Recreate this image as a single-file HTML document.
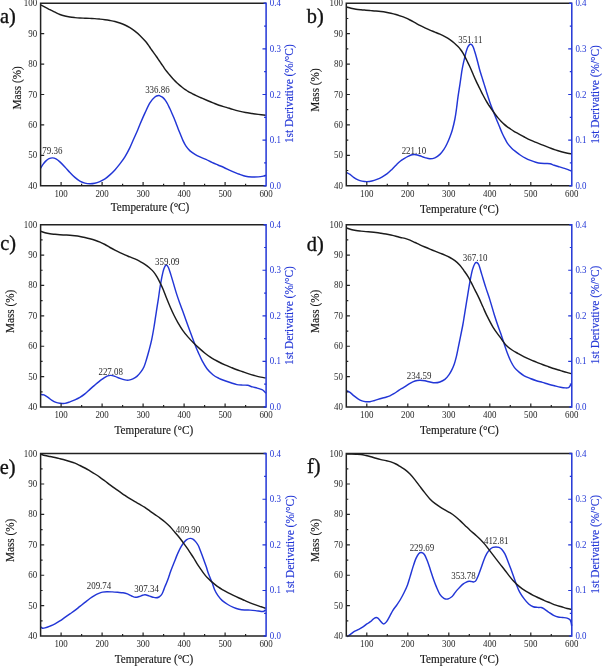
<!DOCTYPE html>
<html><head><meta charset="utf-8"><title>TGA/DTG</title>
<style>
html,body{margin:0;padding:0;background:#fff;}
body{width:602px;height:666px;overflow:hidden;}
svg{display:block;font-family:"Liberation Serif",serif;filter:blur(0.35px);}
</style></head>
<body>
<svg width="602" height="666" viewBox="0 0 602 666">
<rect width="602" height="666" fill="#fff"/>
<path d="M40.5 168.4C40.92 167.73 42.08 165.65 43 164.4C43.92 163.15 45 161.85 46 160.9C47 159.95 47.92 159.2 49 158.7C50.08 158.2 51.33 157.87 52.5 157.9C53.67 157.93 54.77 158.23 56 158.9C57.23 159.57 58.42 160.57 59.9 161.9C61.38 163.23 63.23 165.15 64.9 166.9C66.57 168.65 68.23 170.65 69.9 172.4C71.57 174.15 73.23 175.95 74.9 177.4C76.57 178.85 78.23 180.15 79.9 181.1C81.57 182.05 83.23 182.65 84.9 183.1C86.57 183.55 88.25 183.77 89.9 183.8C91.55 183.83 93.15 183.67 94.8 183.3C96.45 182.93 98.1 182.33 99.8 181.6C101.5 180.87 103.32 180.02 105 178.9C106.68 177.78 108.25 176.4 109.9 174.9C111.55 173.4 113.23 171.73 114.9 169.9C116.57 168.07 118.23 166.07 119.9 163.9C121.57 161.73 123.23 159.62 124.9 156.9C126.57 154.18 128.4 150.67 129.9 147.6C131.4 144.53 132.57 141.52 133.9 138.5C135.23 135.48 136.88 131.87 137.9 129.5C138.92 127.13 138.82 127.07 140 124.3C141.18 121.53 143.35 116.47 145 112.9C146.65 109.33 148.25 105.55 149.9 102.9C151.55 100.25 153.4 98.23 154.9 97C156.4 95.77 158 95.65 158.9 95.5C159.8 95.35 159.67 95.78 160.3 96.1C160.93 96.42 161.85 96.68 162.7 97.4C163.55 98.12 164.58 99.3 165.4 100.4C166.22 101.5 166.88 102.68 167.6 104C168.32 105.32 168.98 106.77 169.7 108.3C170.42 109.83 171.17 111.53 171.9 113.2C172.63 114.87 173.38 116.55 174.1 118.3C174.82 120.05 175.48 121.85 176.2 123.7C176.92 125.55 177.68 127.58 178.4 129.4C179.12 131.22 179.73 132.73 180.5 134.6C181.27 136.47 182.08 138.67 183 140.6C183.92 142.53 184.83 144.48 186 146.2C187.17 147.92 188.5 149.53 190 150.9C191.5 152.27 193.35 153.4 195 154.4C196.65 155.4 198.08 156.07 199.9 156.9C201.72 157.73 203.9 158.48 205.9 159.4C207.9 160.32 209.9 161.47 211.9 162.4C213.9 163.33 215.9 164.15 217.9 165C219.9 165.85 221.9 166.62 223.9 167.5C225.9 168.38 227.92 169.4 229.9 170.3C231.88 171.2 234.15 172.22 235.8 172.9C237.45 173.58 238.18 173.83 239.8 174.4C241.42 174.97 243.48 175.87 245.5 176.3C247.52 176.73 249.77 176.9 251.9 177C254.03 177.1 256.38 177.05 258.3 176.9C260.22 176.75 262.13 176.37 263.4 176.1C264.67 175.83 265.48 175.43 265.9 175.3" fill="none" stroke="#2236d6" stroke-width="1.45" stroke-linejoin="round"/>
<path d="M41 5C41.67 5.37 43.5 6.42 45 7.2C46.5 7.98 48.33 8.87 50 9.7C51.67 10.53 53.35 11.4 55 12.2C56.65 13 58.25 13.87 59.9 14.5C61.55 15.13 63.23 15.58 64.9 16C66.57 16.42 68.23 16.73 69.9 17C71.57 17.27 73.23 17.43 74.9 17.6C76.57 17.77 78.23 17.9 79.9 18C81.57 18.1 83.23 18.13 84.9 18.2C86.57 18.27 88.25 18.33 89.9 18.4C91.55 18.47 93.12 18.48 94.8 18.6C96.48 18.72 98.3 18.92 100 19.1C101.7 19.28 103.33 19.47 105 19.7C106.67 19.93 108.33 20.2 110 20.5C111.67 20.8 113.35 21.08 115 21.5C116.65 21.92 118.25 22.42 119.9 23C121.55 23.58 123.23 24.22 124.9 25C126.57 25.78 128.23 26.68 129.9 27.7C131.57 28.72 133.23 29.82 134.9 31.1C136.57 32.38 138.18 33.73 139.9 35.4C141.62 37.07 143.82 39.52 145.2 41.1C146.58 42.68 147.25 43.62 148.2 44.9C149.15 46.18 150 47.52 150.9 48.8C151.8 50.08 152.68 51.32 153.6 52.6C154.52 53.88 155.48 55.18 156.4 56.5C157.32 57.82 158.2 59.17 159.1 60.5C160 61.83 160.92 63.2 161.8 64.5C162.68 65.8 163.57 67.13 164.4 68.3C165.23 69.47 166.02 70.5 166.8 71.5C167.58 72.5 168.33 73.38 169.1 74.3C169.87 75.22 170.57 76.05 171.4 77C172.23 77.95 173.2 79.05 174.1 80C175 80.95 175.9 81.85 176.8 82.7C177.7 83.55 178.6 84.33 179.5 85.1C180.4 85.87 181.3 86.58 182.2 87.3C183.1 88.02 184 88.77 184.9 89.4C185.8 90.03 186.7 90.55 187.6 91.1C188.5 91.65 189.4 92.2 190.3 92.7C191.2 93.2 192.1 93.65 193 94.1C193.9 94.55 194.28 94.75 195.7 95.4C197.12 96.05 199.57 97.15 201.5 98C203.43 98.85 205.37 99.68 207.3 100.5C209.23 101.32 211.15 102.12 213.1 102.9C215.05 103.68 216.78 104.45 219 105.2C221.22 105.95 224.1 106.7 226.4 107.4C228.7 108.1 230.68 108.78 232.8 109.4C234.92 110.02 236.98 110.58 239.1 111.1C241.22 111.62 243.37 112.1 245.5 112.5C247.63 112.9 249.77 113.18 251.9 113.5C254.03 113.82 256 114.1 258.3 114.4C260.6 114.7 264.47 115.15 265.7 115.3" fill="none" stroke="#1c1c1c" stroke-width="1.45" stroke-linejoin="round"/>
<path d="M266.1 3.3H40.6V185.7H266.1" fill="none" stroke="#222" stroke-width="1.5" stroke-linejoin="miter"/>
<path d="M263.6 3.3H266.1V185.7H263.6" fill="none" stroke="#2236d6" stroke-width="1.5"/>
<path d="M40.6 155.3h3.6M40.6 124.9h3.6M40.6 94.5h3.6M40.6 64.1h3.6M40.6 33.7h3.6M61.1 185.7v-3.6M81.6 185.7v-2M102.1 185.7v-3.6M122.6 185.7v-2M143.1 185.7v-3.6M163.6 185.7v-2M184.1 185.7v-3.6M204.6 185.7v-2M225.1 185.7v-3.6M245.6 185.7v-2" stroke="#222" stroke-width="1.2"/>
<path d="M266.1 162.9h-2M266.1 140.1h-3.6M266.1 117.3h-2M266.1 94.5h-3.6M266.1 71.7h-2M266.1 48.9h-3.6M266.1 26.1h-2" stroke="#2236d6" stroke-width="1.2"/>
<text transform="translate(37.2 188.7) scale(0.93 1)" text-anchor="end" font-size="9.6" fill="#2a2a2a">40</text><text transform="translate(37.2 158.3) scale(0.93 1)" text-anchor="end" font-size="9.6" fill="#2a2a2a">50</text><text transform="translate(37.2 127.9) scale(0.93 1)" text-anchor="end" font-size="9.6" fill="#2a2a2a">60</text><text transform="translate(37.2 97.5) scale(0.93 1)" text-anchor="end" font-size="9.6" fill="#2a2a2a">70</text><text transform="translate(37.2 67.1) scale(0.93 1)" text-anchor="end" font-size="9.6" fill="#2a2a2a">80</text><text transform="translate(37.2 36.7) scale(0.93 1)" text-anchor="end" font-size="9.6" fill="#2a2a2a">90</text><text transform="translate(37.2 6.3) scale(0.93 1)" text-anchor="end" font-size="9.6" fill="#2a2a2a">100</text><text transform="translate(61.1 196.5) scale(0.93 1)" text-anchor="middle" font-size="9.6" fill="#2a2a2a">100</text><text transform="translate(102.1 196.5) scale(0.93 1)" text-anchor="middle" font-size="9.6" fill="#2a2a2a">200</text><text transform="translate(143.1 196.5) scale(0.93 1)" text-anchor="middle" font-size="9.6" fill="#2a2a2a">300</text><text transform="translate(184.1 196.5) scale(0.93 1)" text-anchor="middle" font-size="9.6" fill="#2a2a2a">400</text><text transform="translate(225.1 196.5) scale(0.93 1)" text-anchor="middle" font-size="9.6" fill="#2a2a2a">500</text><text transform="translate(266.1 196.5) scale(0.93 1)" text-anchor="middle" font-size="9.6" fill="#2a2a2a">600</text><text transform="translate(269.7 188.7) scale(0.93 1)" font-size="9.6" fill="#2236d6">0.0</text><text transform="translate(269.7 143.1) scale(0.93 1)" font-size="9.6" fill="#2236d6">0.1</text><text transform="translate(269.7 97.5) scale(0.93 1)" font-size="9.6" fill="#2236d6">0.2</text><text transform="translate(269.7 51.9) scale(0.93 1)" font-size="9.6" fill="#2236d6">0.3</text><text transform="translate(269.7 6.3) scale(0.93 1)" font-size="9.6" fill="#2236d6">0.4</text><text transform="translate(52.3 153.5) scale(0.93 1)" text-anchor="middle" font-size="9.6" fill="#2a2a2a">79.36</text><text transform="translate(157.4 93.2) scale(0.93 1)" text-anchor="middle" font-size="9.6" fill="#2a2a2a">336.86</text>
<text transform="translate(0 23.2) scale(0.97 1)" font-size="21" fill="#111" stroke="#111" stroke-width="0.35">a)</text>
<text transform="translate(20.7 87.8) rotate(-90) scale(0.95 1)" text-anchor="middle" font-size="11.8" fill="#161616" stroke="#161616" stroke-width="0.15">Mass (%)</text>
<text transform="translate(292.8 93.7) rotate(-90) scale(0.96 1)" text-anchor="middle" font-size="11.8" fill="#2236d6" stroke="#2236d6" stroke-width="0.15">1st Derivative (%/°C)</text>
<text transform="translate(150 211) scale(0.95 1)" text-anchor="middle" font-size="11.8" fill="#161616" stroke="#161616" stroke-width="0.15">Temperature (°C)</text>
<path d="M346.5 172.5C347.08 172.82 348.75 173.53 350 174.4C351.25 175.27 352.67 176.78 354 177.7C355.33 178.62 356.67 179.33 358 179.9C359.33 180.47 360.52 180.82 362 181.1C363.48 181.38 365.25 181.62 366.9 181.6C368.55 181.58 370.23 181.37 371.9 181C373.57 180.63 375.23 180.05 376.9 179.4C378.57 178.75 380.23 178.02 381.9 177.1C383.57 176.18 385.23 175.18 386.9 173.9C388.57 172.62 390.25 170.98 391.9 169.4C393.55 167.82 395.37 165.8 396.8 164.4C398.23 163 399.3 161.95 400.5 161C401.7 160.05 402.75 159.47 404 158.7C405.25 157.93 406.67 157.05 408 156.4C409.33 155.75 410.67 155.08 412 154.8C413.33 154.52 414.68 154.53 416 154.7C417.32 154.87 418.42 155.32 419.9 155.8C421.38 156.28 423.23 157.1 424.9 157.6C426.57 158.1 428.23 158.77 429.9 158.8C431.57 158.83 433.23 158.53 434.9 157.8C436.57 157.07 438.4 155.8 439.9 154.4C441.4 153 442.73 151.13 443.9 149.4C445.07 147.67 445.9 146.07 446.9 144C447.9 141.93 449 139.33 449.9 137C450.8 134.67 451.47 133 452.3 130C453.13 127 454.18 122.67 454.9 119C455.62 115.33 456.08 111.7 456.6 108C457.12 104.3 457.43 100.83 458 96.8C458.57 92.77 459.47 87.35 460 83.8C460.53 80.25 460.85 77.85 461.2 75.5C461.55 73.15 461.73 71.75 462.1 69.7C462.47 67.65 462.95 65.28 463.4 63.2C463.85 61.12 464.35 59.08 464.8 57.2C465.25 55.32 465.62 53.55 466.1 51.9C466.58 50.25 467.15 48.5 467.7 47.3C468.25 46.1 468.95 45.2 469.4 44.7C469.85 44.2 470 44.28 470.4 44.3C470.8 44.32 471.3 44.27 471.8 44.8C472.3 45.33 472.9 46.33 473.4 47.5C473.9 48.67 474.3 50.18 474.8 51.8C475.3 53.42 475.87 55.3 476.4 57.2C476.93 59.1 477.47 61.15 478 63.2C478.53 65.25 478.97 67.27 479.6 69.5C480.23 71.73 481.03 74.12 481.8 76.6C482.57 79.08 483.4 81.82 484.2 84.4C485 86.98 485.7 89.27 486.6 92.1C487.5 94.93 488.7 98.73 489.6 101.4C490.5 104.07 491.2 105.97 492 108.1C492.8 110.23 493.6 112.18 494.4 114.2C495.2 116.22 496 118.23 496.8 120.2C497.6 122.17 498.3 123.83 499.2 126C500.1 128.17 501.25 131.1 502.2 133.2C503.15 135.3 504.02 136.92 504.9 138.6C505.78 140.28 506.33 141.67 507.5 143.3C508.67 144.93 510.47 146.97 511.9 148.4C513.33 149.83 514.72 150.8 516.1 151.9C517.48 153 518.65 153.97 520.2 155C521.75 156.03 523.68 157.2 525.4 158.1C527.12 159 528.78 159.72 530.5 160.4C532.22 161.08 533.98 161.72 535.7 162.2C537.42 162.68 539.08 163.08 540.8 163.3C542.52 163.52 544.45 163.42 546 163.5C547.55 163.58 548.73 163.5 550.1 163.8C551.47 164.1 552.65 164.78 554.2 165.3C555.75 165.82 557.68 166.38 559.4 166.9C561.12 167.42 563.05 167.95 564.5 168.4C565.95 168.85 566.98 169.17 568.1 169.6C569.22 170.03 570.68 170.77 571.2 171" fill="none" stroke="#2236d6" stroke-width="1.45" stroke-linejoin="round"/>
<path d="M346.5 7C347.25 7.2 349.42 7.83 351 8.2C352.58 8.57 354.33 8.93 356 9.2C357.67 9.47 359.35 9.63 361 9.8C362.65 9.97 364.25 10.07 365.9 10.2C367.55 10.33 369.23 10.47 370.9 10.6C372.57 10.73 374.23 10.85 375.9 11C377.57 11.15 379.23 11.3 380.9 11.5C382.57 11.7 384.23 11.92 385.9 12.2C387.57 12.48 389.23 12.82 390.9 13.2C392.57 13.58 394.32 14.03 395.9 14.5C397.48 14.97 398.88 15.47 400.4 16C401.92 16.53 403.4 17.03 405 17.7C406.6 18.37 408.33 19.17 410 20C411.67 20.83 413.35 21.8 415 22.7C416.65 23.6 418.25 24.53 419.9 25.4C421.55 26.27 423.23 27.12 424.9 27.9C426.57 28.68 428.23 29.4 429.9 30.1C431.57 30.8 433.23 31.42 434.9 32.1C436.57 32.78 438.23 33.43 439.9 34.2C441.57 34.97 443.23 35.78 444.9 36.7C446.57 37.62 448.3 38.62 449.9 39.7C451.5 40.78 453.15 42.05 454.5 43.2C455.85 44.35 456.97 45.52 458 46.6C459.03 47.68 459.87 48.62 460.7 49.7C461.53 50.78 462.28 51.92 463 53.1C463.72 54.28 464.3 55.45 465 56.8C465.7 58.15 466.47 59.7 467.2 61.2C467.93 62.7 468.73 64.37 469.4 65.8C470.07 67.23 470.53 68.27 471.2 69.8C471.87 71.33 472.63 73.23 473.4 75C474.17 76.77 475 78.67 475.8 80.4C476.6 82.13 477.4 83.75 478.2 85.4C479 87.05 479.85 88.78 480.6 90.3C481.35 91.82 481.75 92.68 482.7 94.5C483.65 96.32 485.25 99.37 486.3 101.2C487.35 103.03 488.05 104.07 489 105.5C489.95 106.93 491 108.38 492 109.8C493 111.22 494 112.65 495 114C496 115.35 497 116.68 498 117.9C499 119.12 500 120.27 501 121.3C502 122.33 503 123.22 504 124.1C505 124.98 506 125.83 507 126.6C508 127.37 508.9 127.95 510 128.7C511.1 129.45 512.23 130.28 513.6 131.1C514.97 131.92 516.4 132.62 518.2 133.6C520 134.58 522.35 135.92 524.4 137C526.45 138.08 528.45 139.15 530.5 140.1C532.55 141.05 534.63 141.85 536.7 142.7C538.77 143.55 540.83 144.38 542.9 145.2C544.97 146.02 547.03 146.82 549.1 147.6C551.17 148.38 553.25 149.22 555.3 149.9C557.35 150.58 559.35 151.15 561.4 151.7C563.45 152.25 565.92 152.83 567.6 153.2C569.28 153.57 570.85 153.78 571.5 153.9" fill="none" stroke="#1c1c1c" stroke-width="1.45" stroke-linejoin="round"/>
<path d="M571.8 3.3H346.3V185.7H571.8" fill="none" stroke="#222" stroke-width="1.5" stroke-linejoin="miter"/>
<path d="M569.3 3.3H571.8V185.7H569.3" fill="none" stroke="#2236d6" stroke-width="1.5"/>
<path d="M346.3 170.5h2M346.3 155.3h3.6M346.3 140.1h2M346.3 124.9h3.6M346.3 109.7h2M346.3 94.5h3.6M346.3 79.3h2M346.3 64.1h3.6M346.3 48.9h2M346.3 33.7h3.6M346.3 18.5h2M366.8 185.7v-3.6M387.3 185.7v-2M407.8 185.7v-3.6M428.3 185.7v-2M448.8 185.7v-3.6M469.3 185.7v-2M489.8 185.7v-3.6M510.3 185.7v-2M530.8 185.7v-3.6M551.3 185.7v-2" stroke="#222" stroke-width="1.2"/>
<path d="M571.8 162.9h-2M571.8 140.1h-3.6M571.8 117.3h-2M571.8 94.5h-3.6M571.8 71.7h-2M571.8 48.9h-3.6M571.8 26.1h-2" stroke="#2236d6" stroke-width="1.2"/>
<text transform="translate(342.9 188.7) scale(0.93 1)" text-anchor="end" font-size="9.6" fill="#2a2a2a">40</text><text transform="translate(342.9 158.3) scale(0.93 1)" text-anchor="end" font-size="9.6" fill="#2a2a2a">50</text><text transform="translate(342.9 127.9) scale(0.93 1)" text-anchor="end" font-size="9.6" fill="#2a2a2a">60</text><text transform="translate(342.9 97.5) scale(0.93 1)" text-anchor="end" font-size="9.6" fill="#2a2a2a">70</text><text transform="translate(342.9 67.1) scale(0.93 1)" text-anchor="end" font-size="9.6" fill="#2a2a2a">80</text><text transform="translate(342.9 36.7) scale(0.93 1)" text-anchor="end" font-size="9.6" fill="#2a2a2a">90</text><text transform="translate(342.9 6.3) scale(0.93 1)" text-anchor="end" font-size="9.6" fill="#2a2a2a">100</text><text transform="translate(366.8 196.5) scale(0.93 1)" text-anchor="middle" font-size="9.6" fill="#2a2a2a">100</text><text transform="translate(407.8 196.5) scale(0.93 1)" text-anchor="middle" font-size="9.6" fill="#2a2a2a">200</text><text transform="translate(448.8 196.5) scale(0.93 1)" text-anchor="middle" font-size="9.6" fill="#2a2a2a">300</text><text transform="translate(489.8 196.5) scale(0.93 1)" text-anchor="middle" font-size="9.6" fill="#2a2a2a">400</text><text transform="translate(530.8 196.5) scale(0.93 1)" text-anchor="middle" font-size="9.6" fill="#2a2a2a">500</text><text transform="translate(571.8 196.5) scale(0.93 1)" text-anchor="middle" font-size="9.6" fill="#2a2a2a">600</text><text transform="translate(575.4 188.7) scale(0.93 1)" font-size="9.6" fill="#2236d6">0.0</text><text transform="translate(575.4 143.1) scale(0.93 1)" font-size="9.6" fill="#2236d6">0.1</text><text transform="translate(575.4 97.5) scale(0.93 1)" font-size="9.6" fill="#2236d6">0.2</text><text transform="translate(575.4 51.9) scale(0.93 1)" font-size="9.6" fill="#2236d6">0.3</text><text transform="translate(575.4 6.3) scale(0.93 1)" font-size="9.6" fill="#2236d6">0.4</text><text transform="translate(413.9 153.5) scale(0.93 1)" text-anchor="middle" font-size="9.6" fill="#2a2a2a">221.10</text><text transform="translate(470.3 42.5) scale(0.93 1)" text-anchor="middle" font-size="9.6" fill="#2a2a2a">351.11</text>
<text transform="translate(306.8 23.2) scale(0.97 1)" font-size="21" fill="#111" stroke="#111" stroke-width="0.35">b)</text>
<text transform="translate(319.3 90) rotate(-90) scale(0.95 1)" text-anchor="middle" font-size="11.8" fill="#161616" stroke="#161616" stroke-width="0.15">Mass (%)</text>
<text transform="translate(598.8 94.5) rotate(-90) scale(0.96 1)" text-anchor="middle" font-size="11.8" fill="#2236d6" stroke="#2236d6" stroke-width="0.15">1st Derivative (%/°C)</text>
<text transform="translate(459.3 213) scale(0.95 1)" text-anchor="middle" font-size="11.8" fill="#161616" stroke="#161616" stroke-width="0.15">Temperature (°C)</text>
<path d="M40.5 394.4C41.08 394.48 42.75 394.4 44 394.9C45.25 395.4 46.67 396.48 48 397.4C49.33 398.32 50.67 399.57 52 400.4C53.33 401.23 54.68 401.93 56 402.4C57.32 402.87 58.42 403.03 59.9 403.2C61.38 403.37 63.23 403.62 64.9 403.4C66.57 403.18 68.23 402.48 69.9 401.9C71.57 401.32 73.23 400.65 74.9 399.9C76.57 399.15 78.23 398.4 79.9 397.4C81.57 396.4 83.23 395.23 84.9 393.9C86.57 392.57 88.25 390.87 89.9 389.4C91.55 387.93 93.28 386.4 94.8 385.1C96.32 383.8 97.63 382.67 99 381.6C100.37 380.53 101.67 379.62 103 378.7C104.33 377.78 105.67 376.65 107 376.1C108.33 375.55 109.68 375.35 111 375.4C112.32 375.45 113.42 375.9 114.9 376.4C116.38 376.9 118.23 377.82 119.9 378.4C121.57 378.98 123.4 379.62 124.9 379.9C126.4 380.18 127.57 380.27 128.9 380.1C130.23 379.93 131.57 379.52 132.9 378.9C134.23 378.28 135.57 377.57 136.9 376.4C138.23 375.23 139.73 373.47 140.9 371.9C142.07 370.33 143 368.98 143.9 367C144.8 365.02 145.45 362.75 146.3 360C147.15 357.25 148.1 353.9 149 350.5C149.9 347.1 150.87 343.52 151.7 339.6C152.53 335.68 153.32 331.05 154 327C154.68 322.95 155.2 319.2 155.8 315.3C156.4 311.4 157.18 306.25 157.6 303.6C158.02 300.95 157.9 302.08 158.3 299.4C158.7 296.72 159.38 291.35 160 287.5C160.62 283.65 161.35 279.43 162 276.3C162.65 273.17 163.22 270.58 163.9 268.7C164.58 266.82 165.35 265.2 166.1 265C166.85 264.8 167.6 265.85 168.4 267.5C169.2 269.15 169.98 272 170.9 274.9C171.82 277.8 172.9 281.57 173.9 284.9C174.9 288.23 175.9 291.8 176.9 294.9C177.9 298 178.9 300.73 179.9 303.5C180.9 306.27 181.9 308.75 182.9 311.5C183.9 314.25 184.73 316.77 185.9 320C187.07 323.23 188.57 327.27 189.9 330.9C191.23 334.53 192.8 338.87 193.9 341.8C195 344.73 195.72 346.6 196.5 348.5C197.28 350.4 197.65 351.13 198.6 353.2C199.55 355.27 200.8 358.32 202.2 360.9C203.6 363.48 205.22 366.4 207 368.7C208.78 371 210.92 373.1 212.9 374.7C214.88 376.3 216.9 377.3 218.9 378.3C220.9 379.3 222.9 379.95 224.9 380.7C226.9 381.45 228.9 382.15 230.9 382.8C232.9 383.45 234.92 384.22 236.9 384.6C238.88 384.98 241.02 384.98 242.8 385.1C244.58 385.22 246 385 247.6 385.3C249.2 385.6 250.8 386.43 252.4 386.9C254 387.37 255.6 387.65 257.2 388.1C258.8 388.55 260.8 389.05 262 389.6C263.2 390.15 263.77 390.8 264.4 391.4C265.03 392 265.57 392.9 265.8 393.2" fill="none" stroke="#2236d6" stroke-width="1.45" stroke-linejoin="round"/>
<path d="M40.5 231.2C41.25 231.47 43.42 232.37 45 232.8C46.58 233.23 48.33 233.55 50 233.8C51.67 234.05 53.35 234.15 55 234.3C56.65 234.45 58.25 234.58 59.9 234.7C61.55 234.82 63.23 234.9 64.9 235C66.57 235.1 68.23 235.17 69.9 235.3C71.57 235.43 73.23 235.6 74.9 235.8C76.57 236 78.23 236.22 79.9 236.5C81.57 236.78 83.23 237.13 84.9 237.5C86.57 237.87 88.22 238.25 89.9 238.7C91.58 239.15 93.32 239.63 95 240.2C96.68 240.77 98.33 241.38 100 242.1C101.67 242.82 103.33 243.6 105 244.5C106.67 245.4 108.35 246.55 110 247.5C111.65 248.45 113.25 249.33 114.9 250.2C116.55 251.07 118.23 251.92 119.9 252.7C121.57 253.48 123.23 254.2 124.9 254.9C126.57 255.6 128.23 256.23 129.9 256.9C131.57 257.57 133.23 258.15 134.9 258.9C136.57 259.65 138.23 260.5 139.9 261.4C141.57 262.3 143.32 263.23 144.9 264.3C146.48 265.37 147.98 266.58 149.4 267.8C150.82 269.02 152.13 270.08 153.4 271.6C154.67 273.12 155.82 274.9 157 276.9C158.18 278.9 159.42 281.38 160.5 283.6C161.58 285.82 162.58 288 163.5 290.2C164.42 292.4 164.92 294.08 166 296.8C167.08 299.52 168.67 303.42 170 306.5C171.33 309.58 172.68 312.62 174 315.3C175.32 317.98 176.42 320.05 177.9 322.6C179.38 325.15 181.23 328.22 182.9 330.6C184.57 332.98 186.07 334.78 187.9 336.9C189.73 339.02 191.9 341.3 193.9 343.3C195.9 345.3 198.05 347.25 199.9 348.9C201.75 350.55 203.32 351.87 205 353.2C206.68 354.53 208.33 355.78 210 356.9C211.67 358.02 213.52 359.05 215 359.9C216.48 360.75 217.25 361.18 218.9 362C220.55 362.82 222.9 363.92 224.9 364.8C226.9 365.68 228.9 366.48 230.9 367.3C232.9 368.12 234.92 368.97 236.9 369.7C238.88 370.43 240.82 371 242.8 371.7C244.78 372.4 246.8 373.25 248.8 373.9C250.8 374.55 252.8 375.07 254.8 375.6C256.8 376.13 259 376.7 260.8 377.1C262.6 377.5 264.8 377.85 265.6 378" fill="none" stroke="#1c1c1c" stroke-width="1.45" stroke-linejoin="round"/>
<path d="M266.1 224.7H40.6V407H266.1" fill="none" stroke="#222" stroke-width="1.5" stroke-linejoin="miter"/>
<path d="M263.6 224.7H266.1V407H263.6" fill="none" stroke="#2236d6" stroke-width="1.5"/>
<path d="M40.6 391.81h2M40.6 376.62h3.6M40.6 361.43h2M40.6 346.23h3.6M40.6 331.04h2M40.6 315.85h3.6M40.6 300.66h2M40.6 285.47h3.6M40.6 270.27h2M40.6 255.08h3.6M40.6 239.89h2M61.1 407v-3.6M81.6 407v-2M102.1 407v-3.6M122.6 407v-2M143.1 407v-3.6M163.6 407v-2M184.1 407v-3.6M204.6 407v-2M225.1 407v-3.6M245.6 407v-2" stroke="#222" stroke-width="1.2"/>
<path d="M266.1 384.21h-2M266.1 361.43h-3.6M266.1 338.64h-2M266.1 315.85h-3.6M266.1 293.06h-2M266.1 270.27h-3.6M266.1 247.49h-2" stroke="#2236d6" stroke-width="1.2"/>
<text transform="translate(37.2 410) scale(0.93 1)" text-anchor="end" font-size="9.6" fill="#2a2a2a">40</text><text transform="translate(37.2 379.62) scale(0.93 1)" text-anchor="end" font-size="9.6" fill="#2a2a2a">50</text><text transform="translate(37.2 349.23) scale(0.93 1)" text-anchor="end" font-size="9.6" fill="#2a2a2a">60</text><text transform="translate(37.2 318.85) scale(0.93 1)" text-anchor="end" font-size="9.6" fill="#2a2a2a">70</text><text transform="translate(37.2 288.47) scale(0.93 1)" text-anchor="end" font-size="9.6" fill="#2a2a2a">80</text><text transform="translate(37.2 258.08) scale(0.93 1)" text-anchor="end" font-size="9.6" fill="#2a2a2a">90</text><text transform="translate(37.2 227.7) scale(0.93 1)" text-anchor="end" font-size="9.6" fill="#2a2a2a">100</text><text transform="translate(61.1 418.3) scale(0.93 1)" text-anchor="middle" font-size="9.6" fill="#2a2a2a">100</text><text transform="translate(102.1 418.3) scale(0.93 1)" text-anchor="middle" font-size="9.6" fill="#2a2a2a">200</text><text transform="translate(143.1 418.3) scale(0.93 1)" text-anchor="middle" font-size="9.6" fill="#2a2a2a">300</text><text transform="translate(184.1 418.3) scale(0.93 1)" text-anchor="middle" font-size="9.6" fill="#2a2a2a">400</text><text transform="translate(225.1 418.3) scale(0.93 1)" text-anchor="middle" font-size="9.6" fill="#2a2a2a">500</text><text transform="translate(266.1 418.3) scale(0.93 1)" text-anchor="middle" font-size="9.6" fill="#2a2a2a">600</text><text transform="translate(269.7 410) scale(0.93 1)" font-size="9.6" fill="#2236d6">0.0</text><text transform="translate(269.7 364.43) scale(0.93 1)" font-size="9.6" fill="#2236d6">0.1</text><text transform="translate(269.7 318.85) scale(0.93 1)" font-size="9.6" fill="#2236d6">0.2</text><text transform="translate(269.7 273.27) scale(0.93 1)" font-size="9.6" fill="#2236d6">0.3</text><text transform="translate(269.7 227.7) scale(0.93 1)" font-size="9.6" fill="#2236d6">0.4</text><text transform="translate(110.7 374.5) scale(0.93 1)" text-anchor="middle" font-size="9.6" fill="#2a2a2a">227.08</text><text transform="translate(167.3 264.8) scale(0.93 1)" text-anchor="middle" font-size="9.6" fill="#2a2a2a">359.09</text>
<text transform="translate(0.3 250.3) scale(0.97 1)" font-size="21" fill="#111" stroke="#111" stroke-width="0.35">c)</text>
<text transform="translate(13.5 311.3) rotate(-90) scale(0.95 1)" text-anchor="middle" font-size="11.8" fill="#161616" stroke="#161616" stroke-width="0.15">Mass (%)</text>
<text transform="translate(293.4 315.6) rotate(-90) scale(0.96 1)" text-anchor="middle" font-size="11.8" fill="#2236d6" stroke="#2236d6" stroke-width="0.15">1st Derivative (%/°C)</text>
<text transform="translate(153.8 434.4) scale(0.95 1)" text-anchor="middle" font-size="11.8" fill="#161616" stroke="#161616" stroke-width="0.15">Temperature (°C)</text>
<path d="M346.5 390.7C347.08 390.98 348.75 391.53 350 392.4C351.25 393.27 352.67 394.82 354 395.9C355.33 396.98 356.67 398.07 358 398.9C359.33 399.73 360.68 400.43 362 400.9C363.32 401.37 364.58 401.57 365.9 401.7C367.22 401.83 368.57 401.87 369.9 401.7C371.23 401.53 372.57 401.08 373.9 400.7C375.23 400.32 376.57 399.82 377.9 399.4C379.23 398.98 380.57 398.57 381.9 398.2C383.23 397.83 384.57 397.58 385.9 397.2C387.23 396.82 388.57 396.48 389.9 395.9C391.23 395.32 392.58 394.5 393.9 393.7C395.22 392.9 396.55 391.93 397.8 391.1C399.05 390.27 400.2 389.45 401.4 388.7C402.6 387.95 403.57 387.5 405 386.6C406.43 385.7 408.33 384.23 410 383.3C411.67 382.37 413.35 381.5 415 381C416.65 380.5 418.25 380.33 419.9 380.3C421.55 380.27 423.23 380.52 424.9 380.8C426.57 381.08 428.23 381.67 429.9 382C431.57 382.33 433.23 382.8 434.9 382.8C436.57 382.8 438.23 382.57 439.9 382C441.57 381.43 443.4 380.58 444.9 379.4C446.4 378.22 447.75 376.48 448.9 374.9C450.05 373.32 450.9 371.73 451.8 369.9C452.7 368.07 453.55 366.07 454.3 363.9C455.05 361.73 455.72 359.23 456.3 356.9C456.88 354.57 457.27 352.47 457.8 349.9C458.33 347.33 458.67 345.65 459.5 341.5C460.33 337.35 461.98 329.37 462.8 325C463.62 320.63 463.72 319.48 464.4 315.3C465.08 311.12 465.98 305.47 466.9 299.9C467.82 294.33 468.98 286.9 469.9 281.9C470.82 276.9 471.57 272.97 472.4 269.9C473.23 266.83 474.18 264.73 474.9 263.5C475.62 262.27 476.03 262.25 476.7 262.5C477.37 262.75 478.03 262.93 478.9 265C479.77 267.07 480.73 271.08 481.9 274.9C483.07 278.72 484.57 283.73 485.9 287.9C487.23 292.07 488.5 295.42 489.9 299.9C491.3 304.38 493.03 310.7 494.3 314.8C495.57 318.9 496.45 321.47 497.5 324.5C498.55 327.53 499.58 330.07 500.6 333C501.62 335.93 502.48 338.77 503.6 342.1C504.72 345.43 506.08 349.77 507.3 353C508.52 356.23 509.7 359.07 510.9 361.5C512.1 363.93 513.08 365.78 514.5 367.6C515.92 369.42 517.78 371.03 519.4 372.4C521.02 373.77 522.38 374.78 524.2 375.8C526.02 376.82 528.27 377.68 530.3 378.5C532.33 379.32 534.38 380.05 536.4 380.7C538.42 381.35 540.38 381.82 542.4 382.4C544.42 382.98 546.48 383.63 548.5 384.2C550.52 384.77 552.48 385.28 554.5 385.8C556.52 386.32 558.77 386.95 560.6 387.3C562.43 387.65 564.18 387.85 565.5 387.9C566.82 387.95 567.73 387.95 568.5 387.6C569.27 387.25 569.6 386.42 570.1 385.8C570.6 385.18 571.27 384.22 571.5 383.9" fill="none" stroke="#2236d6" stroke-width="1.45" stroke-linejoin="round"/>
<path d="M346.5 228C347.25 228.25 349.42 229.08 351 229.5C352.58 229.92 354.33 230.23 356 230.5C357.67 230.77 359.35 230.92 361 231.1C362.65 231.28 364.25 231.45 365.9 231.6C367.55 231.75 369.23 231.85 370.9 232C372.57 232.15 374.23 232.3 375.9 232.5C377.57 232.7 379.23 232.95 380.9 233.2C382.57 233.45 384.23 233.7 385.9 234C387.57 234.3 389.23 234.63 390.9 235C392.57 235.37 394.32 235.78 395.9 236.2C397.48 236.62 398.88 237.13 400.4 237.5C401.92 237.87 403.4 237.95 405 238.4C406.6 238.85 408.33 239.52 410 240.2C411.67 240.88 413.35 241.73 415 242.5C416.65 243.27 418.25 244.05 419.9 244.8C421.55 245.55 423.23 246.28 424.9 247C426.57 247.72 428.23 248.42 429.9 249.1C431.57 249.78 433.23 250.43 434.9 251.1C436.57 251.77 438.23 252.43 439.9 253.1C441.57 253.77 443.23 254.37 444.9 255.1C446.57 255.83 448.23 256.57 449.9 257.5C451.57 258.43 453.23 259.42 454.9 260.7C456.57 261.98 458.4 263.55 459.9 265.2C461.4 266.85 462.57 268.73 463.9 270.6C465.23 272.47 466.73 274.52 467.9 276.4C469.07 278.28 469.73 279.65 470.9 281.9C472.07 284.15 473.57 287.23 474.9 289.9C476.23 292.57 477.57 295.08 478.9 297.9C480.23 300.72 481.65 304.02 482.9 306.8C484.15 309.58 484.7 311.18 486.4 314.6C488.1 318.02 490.73 323.42 493.1 327.3C495.47 331.18 498.43 334.92 500.6 337.9C502.77 340.88 504.18 343.18 506.1 345.2C508.02 347.22 510.08 348.6 512.1 350C514.12 351.4 516.18 352.45 518.2 353.6C520.22 354.75 522.18 355.88 524.2 356.9C526.22 357.92 528.27 358.83 530.3 359.7C532.33 360.57 534.38 361.3 536.4 362.1C538.42 362.9 540.38 363.73 542.4 364.5C544.42 365.27 546.48 365.98 548.5 366.7C550.52 367.42 552.48 368.15 554.5 368.8C556.52 369.45 558.57 370 560.6 370.6C562.63 371.2 564.93 371.9 566.7 372.4C568.47 372.9 570.45 373.4 571.2 373.6" fill="none" stroke="#1c1c1c" stroke-width="1.45" stroke-linejoin="round"/>
<path d="M571.8 224.7H346.3V407H571.8" fill="none" stroke="#222" stroke-width="1.5" stroke-linejoin="miter"/>
<path d="M569.3 224.7H571.8V407H569.3" fill="none" stroke="#2236d6" stroke-width="1.5"/>
<path d="M346.3 391.81h2M346.3 376.62h3.6M346.3 361.43h2M346.3 346.23h3.6M346.3 331.04h2M346.3 315.85h3.6M346.3 300.66h2M346.3 285.47h3.6M346.3 270.27h2M346.3 255.08h3.6M346.3 239.89h2M366.8 407v-3.6M387.3 407v-2M407.8 407v-3.6M428.3 407v-2M448.8 407v-3.6M469.3 407v-2M489.8 407v-3.6M510.3 407v-2M530.8 407v-3.6M551.3 407v-2" stroke="#222" stroke-width="1.2"/>
<path d="M571.8 384.21h-2M571.8 361.43h-3.6M571.8 338.64h-2M571.8 315.85h-3.6M571.8 293.06h-2M571.8 270.27h-3.6M571.8 247.49h-2" stroke="#2236d6" stroke-width="1.2"/>
<text transform="translate(342.9 410) scale(0.93 1)" text-anchor="end" font-size="9.6" fill="#2a2a2a">40</text><text transform="translate(342.9 379.62) scale(0.93 1)" text-anchor="end" font-size="9.6" fill="#2a2a2a">50</text><text transform="translate(342.9 349.23) scale(0.93 1)" text-anchor="end" font-size="9.6" fill="#2a2a2a">60</text><text transform="translate(342.9 318.85) scale(0.93 1)" text-anchor="end" font-size="9.6" fill="#2a2a2a">70</text><text transform="translate(342.9 288.47) scale(0.93 1)" text-anchor="end" font-size="9.6" fill="#2a2a2a">80</text><text transform="translate(342.9 258.08) scale(0.93 1)" text-anchor="end" font-size="9.6" fill="#2a2a2a">90</text><text transform="translate(342.9 227.7) scale(0.93 1)" text-anchor="end" font-size="9.6" fill="#2a2a2a">100</text><text transform="translate(366.8 418.3) scale(0.93 1)" text-anchor="middle" font-size="9.6" fill="#2a2a2a">100</text><text transform="translate(407.8 418.3) scale(0.93 1)" text-anchor="middle" font-size="9.6" fill="#2a2a2a">200</text><text transform="translate(448.8 418.3) scale(0.93 1)" text-anchor="middle" font-size="9.6" fill="#2a2a2a">300</text><text transform="translate(489.8 418.3) scale(0.93 1)" text-anchor="middle" font-size="9.6" fill="#2a2a2a">400</text><text transform="translate(530.8 418.3) scale(0.93 1)" text-anchor="middle" font-size="9.6" fill="#2a2a2a">500</text><text transform="translate(571.8 418.3) scale(0.93 1)" text-anchor="middle" font-size="9.6" fill="#2a2a2a">600</text><text transform="translate(575.4 410) scale(0.93 1)" font-size="9.6" fill="#2236d6">0.0</text><text transform="translate(575.4 364.43) scale(0.93 1)" font-size="9.6" fill="#2236d6">0.1</text><text transform="translate(575.4 318.85) scale(0.93 1)" font-size="9.6" fill="#2236d6">0.2</text><text transform="translate(575.4 273.27) scale(0.93 1)" font-size="9.6" fill="#2236d6">0.3</text><text transform="translate(575.4 227.7) scale(0.93 1)" font-size="9.6" fill="#2236d6">0.4</text><text transform="translate(419.1 378.7) scale(0.93 1)" text-anchor="middle" font-size="9.6" fill="#2a2a2a">234.59</text><text transform="translate(475.1 260.9) scale(0.93 1)" text-anchor="middle" font-size="9.6" fill="#2a2a2a">367.10</text>
<text transform="translate(306.8 251.3) scale(0.97 1)" font-size="21" fill="#111" stroke="#111" stroke-width="0.35">d)</text>
<text transform="translate(319.1 311.3) rotate(-90) scale(0.95 1)" text-anchor="middle" font-size="11.8" fill="#161616" stroke="#161616" stroke-width="0.15">Mass (%)</text>
<text transform="translate(598.8 315) rotate(-90) scale(0.96 1)" text-anchor="middle" font-size="11.8" fill="#2236d6" stroke="#2236d6" stroke-width="0.15">1st Derivative (%/°C)</text>
<text transform="translate(459.3 434) scale(0.95 1)" text-anchor="middle" font-size="11.8" fill="#161616" stroke="#161616" stroke-width="0.15">Temperature (°C)</text>
<path d="M40.5 626.9C40.83 627.12 41.75 628.03 42.5 628.2C43.25 628.37 43.75 628.25 45 627.9C46.25 627.55 48.33 626.77 50 626.1C51.67 625.43 53.35 624.77 55 623.9C56.65 623.03 58.25 621.98 59.9 620.9C61.55 619.82 63.23 618.57 64.9 617.4C66.57 616.23 68.23 615.07 69.9 613.9C71.57 612.73 73.23 611.65 74.9 610.4C76.57 609.15 78.23 607.73 79.9 606.4C81.57 605.07 83.23 603.72 84.9 602.4C86.57 601.08 88.25 599.68 89.9 598.5C91.55 597.32 93.42 596.12 94.8 595.3C96.18 594.48 96.9 594.13 98.2 593.6C99.5 593.07 101.15 592.42 102.6 592.1C104.05 591.78 105.28 591.73 106.9 591.7C108.52 591.67 110.5 591.8 112.3 591.9C114.1 592 115.9 592.15 117.7 592.3C119.5 592.45 121.48 592.53 123.1 592.8C124.72 593.07 125.97 593.37 127.4 593.9C128.83 594.43 130.35 595.43 131.7 596C133.05 596.57 134.23 597.22 135.5 597.3C136.77 597.38 138.13 596.83 139.3 596.5C140.47 596.17 141.52 595.58 142.5 595.3C143.48 595.02 144.12 594.7 145.2 594.8C146.28 594.9 147.7 595.5 149 595.9C150.3 596.3 151.83 596.88 153 597.2C154.17 597.52 155 597.83 156 597.8C157 597.77 158.1 597.48 159 597C159.9 596.52 160.7 595.85 161.4 594.9C162.1 593.95 162.6 592.7 163.2 591.3C163.8 589.9 164.4 588.02 165 586.5C165.6 584.98 166.2 583.72 166.8 582.2C167.4 580.68 168 579.1 168.6 577.4C169.2 575.7 169.8 573.7 170.4 572C171 570.3 171.58 568.77 172.2 567.2C172.82 565.63 173.38 564.4 174.1 562.6C174.82 560.8 175.73 558.27 176.5 556.4C177.27 554.53 177.88 553.1 178.7 551.4C179.52 549.7 180.5 547.73 181.4 546.2C182.3 544.67 183.2 543.3 184.1 542.2C185 541.1 185.78 540.23 186.8 539.6C187.82 538.97 189.18 538.48 190.2 538.4C191.22 538.32 192 538.57 192.9 539.1C193.8 539.63 194.7 540.53 195.6 541.6C196.5 542.67 197.48 543.93 198.3 545.5C199.12 547.07 199.67 548.85 200.5 551C201.33 553.15 202.35 555.8 203.3 558.4C204.25 561 205.32 563.98 206.2 566.6C207.08 569.22 207.63 571.48 208.6 574.1C209.57 576.72 211.02 579.73 212 582.3C212.98 584.87 213.53 587.32 214.5 589.5C215.47 591.68 216.5 593.55 217.8 595.4C219.1 597.25 220.63 599.08 222.3 600.6C223.97 602.12 225.95 603.38 227.8 604.5C229.65 605.62 231.53 606.52 233.4 607.3C235.27 608.08 237.15 608.75 239 609.2C240.85 609.65 242.65 609.85 244.5 610C246.35 610.15 248.25 610 250.1 610.1C251.95 610.2 253.75 610.37 255.6 610.6C257.45 610.83 259.8 611.4 261.2 611.5C262.6 611.6 263.25 611.48 264 611.2C264.75 610.92 265.42 610.03 265.7 609.8" fill="none" stroke="#2236d6" stroke-width="1.45" stroke-linejoin="round"/>
<path d="M41 454.2C41.67 454.42 43.5 455.12 45 455.5C46.5 455.88 48.33 456.17 50 456.5C51.67 456.83 53.35 457.13 55 457.5C56.65 457.87 58.25 458.28 59.9 458.7C61.55 459.12 63.23 459.53 64.9 460C66.57 460.47 68.23 460.97 69.9 461.5C71.57 462.03 73.23 462.53 74.9 463.2C76.57 463.87 78.23 464.7 79.9 465.5C81.57 466.3 83.23 467.1 84.9 468C86.57 468.9 88.22 469.9 89.9 470.9C91.58 471.9 93.32 472.93 95 474C96.68 475.07 98.33 476.13 100 477.3C101.67 478.47 103.33 479.75 105 481C106.67 482.25 108.35 483.57 110 484.8C111.65 486.03 113.25 487.22 114.9 488.4C116.55 489.58 118.23 490.73 119.9 491.9C121.57 493.07 123.23 494.27 124.9 495.4C126.57 496.53 128.23 497.65 129.9 498.7C131.57 499.75 133.23 500.75 134.9 501.7C136.57 502.65 138.23 503.45 139.9 504.4C141.57 505.35 143.22 506.28 144.9 507.4C146.58 508.52 148.32 509.9 150 511.1C151.68 512.3 153.33 513.43 155 514.6C156.67 515.77 158.33 516.87 160 518.1C161.67 519.33 163.35 520.58 165 522C166.65 523.42 168.23 524.85 169.9 526.6C171.57 528.35 173.3 530.52 175 532.5C176.7 534.48 178.7 536.77 180.1 538.5C181.5 540.23 182.28 541.38 183.4 542.9C184.52 544.42 185.67 545.97 186.8 547.6C187.93 549.23 189.07 550.98 190.2 552.7C191.33 554.42 192.47 556.08 193.6 557.9C194.73 559.72 195.9 561.85 197 563.6C198.1 565.35 199.05 566.73 200.2 568.4C201.35 570.07 202.73 572.07 203.9 573.6C205.07 575.13 206.03 576.35 207.2 577.6C208.37 578.85 209.68 580.02 210.9 581.1C212.12 582.18 213.23 583.08 214.5 584.1C215.77 585.12 217.2 586.28 218.5 587.2C219.8 588.12 220.75 588.7 222.3 589.6C223.85 590.5 225.95 591.63 227.8 592.6C229.65 593.57 231.53 594.5 233.4 595.4C235.27 596.3 237.15 597.17 239 598C240.85 598.83 242.65 599.6 244.5 600.4C246.35 601.2 248.25 602.05 250.1 602.8C251.95 603.55 253.75 604.23 255.6 604.9C257.45 605.57 259.52 606.22 261.2 606.8C262.88 607.38 264.95 608.13 265.7 608.4" fill="none" stroke="#1c1c1c" stroke-width="1.45" stroke-linejoin="round"/>
<path d="M266.1 453.6H40.6V636.1H266.1" fill="none" stroke="#222" stroke-width="1.5" stroke-linejoin="miter"/>
<path d="M263.6 453.6H266.1V636.1H263.6" fill="none" stroke="#2236d6" stroke-width="1.5"/>
<path d="M40.6 620.89h2M40.6 605.68h3.6M40.6 590.48h2M40.6 575.27h3.6M40.6 560.06h2M40.6 544.85h3.6M40.6 529.64h2M40.6 514.43h3.6M40.6 499.23h2M40.6 484.02h3.6M40.6 468.81h2M61.1 636.1v-3.6M81.6 636.1v-2M102.1 636.1v-3.6M122.6 636.1v-2M143.1 636.1v-3.6M163.6 636.1v-2M184.1 636.1v-3.6M204.6 636.1v-2M225.1 636.1v-3.6M245.6 636.1v-2" stroke="#222" stroke-width="1.2"/>
<path d="M266.1 613.29h-2M266.1 590.48h-3.6M266.1 567.66h-2M266.1 544.85h-3.6M266.1 522.04h-2M266.1 499.23h-3.6M266.1 476.41h-2" stroke="#2236d6" stroke-width="1.2"/>
<text transform="translate(37.2 639.1) scale(0.93 1)" text-anchor="end" font-size="9.6" fill="#2a2a2a">40</text><text transform="translate(37.2 608.68) scale(0.93 1)" text-anchor="end" font-size="9.6" fill="#2a2a2a">50</text><text transform="translate(37.2 578.27) scale(0.93 1)" text-anchor="end" font-size="9.6" fill="#2a2a2a">60</text><text transform="translate(37.2 547.85) scale(0.93 1)" text-anchor="end" font-size="9.6" fill="#2a2a2a">70</text><text transform="translate(37.2 517.43) scale(0.93 1)" text-anchor="end" font-size="9.6" fill="#2a2a2a">80</text><text transform="translate(37.2 487.02) scale(0.93 1)" text-anchor="end" font-size="9.6" fill="#2a2a2a">90</text><text transform="translate(37.2 456.6) scale(0.93 1)" text-anchor="end" font-size="9.6" fill="#2a2a2a">100</text><text transform="translate(61.1 647.4) scale(0.93 1)" text-anchor="middle" font-size="9.6" fill="#2a2a2a">100</text><text transform="translate(102.1 647.4) scale(0.93 1)" text-anchor="middle" font-size="9.6" fill="#2a2a2a">200</text><text transform="translate(143.1 647.4) scale(0.93 1)" text-anchor="middle" font-size="9.6" fill="#2a2a2a">300</text><text transform="translate(184.1 647.4) scale(0.93 1)" text-anchor="middle" font-size="9.6" fill="#2a2a2a">400</text><text transform="translate(225.1 647.4) scale(0.93 1)" text-anchor="middle" font-size="9.6" fill="#2a2a2a">500</text><text transform="translate(266.1 647.4) scale(0.93 1)" text-anchor="middle" font-size="9.6" fill="#2a2a2a">600</text><text transform="translate(269.7 639.1) scale(0.93 1)" font-size="9.6" fill="#2236d6">0.0</text><text transform="translate(269.7 593.48) scale(0.93 1)" font-size="9.6" fill="#2236d6">0.1</text><text transform="translate(269.7 547.85) scale(0.93 1)" font-size="9.6" fill="#2236d6">0.2</text><text transform="translate(269.7 502.23) scale(0.93 1)" font-size="9.6" fill="#2236d6">0.3</text><text transform="translate(269.7 456.6) scale(0.93 1)" font-size="9.6" fill="#2236d6">0.4</text><text transform="translate(99 588.7) scale(0.93 1)" text-anchor="middle" font-size="9.6" fill="#2a2a2a">209.74</text><text transform="translate(146.6 591.7) scale(0.93 1)" text-anchor="middle" font-size="9.6" fill="#2a2a2a">307.34</text><text transform="translate(188 532.9) scale(0.93 1)" text-anchor="middle" font-size="9.6" fill="#2a2a2a">409.90</text>
<text transform="translate(-0.2 474) scale(0.97 1)" font-size="21" fill="#111" stroke="#111" stroke-width="0.35">e)</text>
<text transform="translate(13.5 540.3) rotate(-90) scale(0.95 1)" text-anchor="middle" font-size="11.8" fill="#161616" stroke="#161616" stroke-width="0.15">Mass (%)</text>
<text transform="translate(293.6 544.6) rotate(-90) scale(0.96 1)" text-anchor="middle" font-size="11.8" fill="#2236d6" stroke="#2236d6" stroke-width="0.15">1st Derivative (%/°C)</text>
<text transform="translate(154 663.4) scale(0.95 1)" text-anchor="middle" font-size="11.8" fill="#161616" stroke="#161616" stroke-width="0.15">Temperature (°C)</text>
<path d="M347 636.6C347.25 636.48 347.83 636.35 348.5 635.9C349.17 635.45 350.08 634.6 351 633.9C351.92 633.2 352.83 632.4 354 631.7C355.17 631 356.5 630.5 358 629.7C359.5 628.9 361.52 627.87 363 626.9C364.48 625.93 365.67 624.77 366.9 623.9C368.13 623.03 369.4 622.45 370.4 621.7C371.4 620.95 372.07 620.07 372.9 619.4C373.73 618.73 374.57 617.92 375.4 617.7C376.23 617.48 377.07 617.57 377.9 618.1C378.73 618.63 379.48 619.93 380.4 620.9C381.32 621.87 382.4 623.73 383.4 623.9C384.4 624.07 385.32 623.23 386.4 621.9C387.48 620.57 388.82 617.82 389.9 615.9C390.98 613.98 391.75 612.22 392.9 610.4C394.05 608.58 395.55 606.82 396.8 605C398.05 603.18 399.2 601.53 400.4 599.5C401.6 597.47 402.82 595.23 404 592.8C405.18 590.37 406.5 587.55 407.5 584.9C408.5 582.25 409.08 579.9 410 576.9C410.92 573.9 412 569.98 413 566.9C414 563.82 415.02 560.63 416 558.4C416.98 556.17 418 554.48 418.9 553.5C419.8 552.52 420.48 552.33 421.4 552.5C422.32 552.67 423.4 553.1 424.4 554.5C425.4 555.9 426.4 558.33 427.4 560.9C428.4 563.47 429.4 566.9 430.4 569.9C431.4 572.9 432.4 576.07 433.4 578.9C434.4 581.73 435.32 584.33 436.4 586.9C437.48 589.47 438.65 592.4 439.9 594.3C441.15 596.2 442.57 597.52 443.9 598.3C445.23 599.08 446.58 599.25 447.9 599C449.22 598.75 450.8 597.6 451.8 596.8C452.8 596 453.1 595.23 453.9 594.2C454.7 593.17 455.58 591.82 456.6 590.6C457.62 589.38 458.88 588.02 460 586.9C461.12 585.78 462.32 584.67 463.3 583.9C464.28 583.13 464.9 582.73 465.9 582.3C466.9 581.87 468.3 581.42 469.3 581.3C470.3 581.18 471.13 581.5 471.9 581.6C472.67 581.7 473.23 582.07 473.9 581.9C474.57 581.73 475.23 581.5 475.9 580.6C476.57 579.7 477.07 578.52 477.9 576.5C478.73 574.48 479.9 571.27 480.9 568.5C481.9 565.73 482.9 562.42 483.9 559.9C484.9 557.38 485.9 555.15 486.9 553.4C487.9 551.65 488.9 550.4 489.9 549.4C490.9 548.4 491.9 547.82 492.9 547.4C493.9 546.98 494.9 546.9 495.9 546.9C496.9 546.9 497.9 546.98 498.9 547.4C499.9 547.82 500.9 548.32 501.9 549.4C502.9 550.48 503.92 551.98 504.9 553.9C505.88 555.82 506.82 558.42 507.8 560.9C508.78 563.38 509.85 566.25 510.8 568.8C511.75 571.35 512.58 573.63 513.5 576.2C514.42 578.77 515.27 581.55 516.3 584.2C517.33 586.85 518.38 589.65 519.7 592.1C521.02 594.55 522.7 596.92 524.2 598.9C525.7 600.88 527.2 602.68 528.7 604C530.2 605.32 531.68 606.23 533.2 606.8C534.72 607.37 536.47 607.28 537.8 607.4C539.13 607.52 540.08 607.22 541.2 607.5C542.32 607.78 543.18 608.27 544.5 609.1C545.82 609.93 547.58 611.47 549.1 612.5C550.62 613.53 552.1 614.55 553.6 615.3C555.1 616.05 556.6 616.63 558.1 617C559.6 617.37 561.1 617.32 562.6 617.5C564.1 617.68 565.87 617.72 567.1 618.1C568.33 618.48 569.33 619.05 570 619.8C570.67 620.55 570.82 621.57 571.1 622.6C571.38 623.63 571.6 625.43 571.7 626" fill="none" stroke="#2236d6" stroke-width="1.45" stroke-linejoin="round"/>
<path d="M347 454C348.5 454.03 353.67 454.12 356 454.2C358.33 454.28 359.35 454.28 361 454.5C362.65 454.72 364.25 455.12 365.9 455.5C367.55 455.88 369.23 456.33 370.9 456.8C372.57 457.27 374.23 457.83 375.9 458.3C377.57 458.77 379.23 459.22 380.9 459.6C382.57 459.98 384.23 460.22 385.9 460.6C387.57 460.98 389.23 461.33 390.9 461.9C392.57 462.47 394.32 463.2 395.9 464C397.48 464.8 398.88 465.75 400.4 466.7C401.92 467.65 403.4 468.48 405 469.7C406.6 470.92 408.33 472.3 410 474C411.67 475.7 413.35 477.83 415 479.9C416.65 481.97 418.25 484.23 419.9 486.4C421.55 488.57 423.23 490.82 424.9 492.9C426.57 494.98 428.23 497.15 429.9 498.9C431.57 500.65 433.23 502.07 434.9 503.4C436.57 504.73 438.23 505.82 439.9 506.9C441.57 507.98 443.23 508.93 444.9 509.9C446.57 510.87 448.22 511.65 449.9 512.7C451.58 513.75 453.32 514.88 455 516.2C456.68 517.52 458.33 519.07 460 520.6C461.67 522.13 463.33 523.8 465 525.4C466.67 527 468.35 528.7 470 530.2C471.65 531.7 473.25 532.95 474.9 534.4C476.55 535.85 478.23 537.23 479.9 538.9C481.57 540.57 483.23 542.4 484.9 544.4C486.57 546.4 488.23 548.73 489.9 550.9C491.57 553.07 493.23 555.23 494.9 557.4C496.57 559.57 498.23 561.77 499.9 563.9C501.57 566.03 503.25 568.08 504.9 570.2C506.55 572.32 508.37 574.78 509.8 576.6C511.23 578.42 512.33 579.8 513.5 581.1C514.67 582.4 515.38 583.15 516.8 584.4C518.22 585.65 520.2 587.32 522 588.6C523.8 589.88 525.73 590.98 527.6 592.1C529.47 593.22 531.32 594.32 533.2 595.3C535.08 596.28 537.02 597.12 538.9 598C540.78 598.88 542.62 599.78 544.5 600.6C546.38 601.42 548.32 602.15 550.2 602.9C552.08 603.65 553.92 604.45 555.8 605.1C557.68 605.75 559.62 606.23 561.5 606.8C563.38 607.37 565.43 608.07 567.1 608.5C568.77 608.93 570.77 609.25 571.5 609.4" fill="none" stroke="#1c1c1c" stroke-width="1.45" stroke-linejoin="round"/>
<path d="M571.8 453.6H346.3V636.1H571.8" fill="none" stroke="#222" stroke-width="1.5" stroke-linejoin="miter"/>
<path d="M569.3 453.6H571.8V636.1H569.3" fill="none" stroke="#2236d6" stroke-width="1.5"/>
<path d="M346.3 620.89h2M346.3 605.68h3.6M346.3 590.48h2M346.3 575.27h3.6M346.3 560.06h2M346.3 544.85h3.6M346.3 529.64h2M346.3 514.43h3.6M346.3 499.23h2M346.3 484.02h3.6M346.3 468.81h2M366.8 636.1v-3.6M387.3 636.1v-2M407.8 636.1v-3.6M428.3 636.1v-2M448.8 636.1v-3.6M469.3 636.1v-2M489.8 636.1v-3.6M510.3 636.1v-2M530.8 636.1v-3.6M551.3 636.1v-2" stroke="#222" stroke-width="1.2"/>
<path d="M571.8 613.29h-2M571.8 590.48h-3.6M571.8 567.66h-2M571.8 544.85h-3.6M571.8 522.04h-2M571.8 499.23h-3.6M571.8 476.41h-2" stroke="#2236d6" stroke-width="1.2"/>
<text transform="translate(342.9 639.1) scale(0.93 1)" text-anchor="end" font-size="9.6" fill="#2a2a2a">40</text><text transform="translate(342.9 608.68) scale(0.93 1)" text-anchor="end" font-size="9.6" fill="#2a2a2a">50</text><text transform="translate(342.9 578.27) scale(0.93 1)" text-anchor="end" font-size="9.6" fill="#2a2a2a">60</text><text transform="translate(342.9 547.85) scale(0.93 1)" text-anchor="end" font-size="9.6" fill="#2a2a2a">70</text><text transform="translate(342.9 517.43) scale(0.93 1)" text-anchor="end" font-size="9.6" fill="#2a2a2a">80</text><text transform="translate(342.9 487.02) scale(0.93 1)" text-anchor="end" font-size="9.6" fill="#2a2a2a">90</text><text transform="translate(342.9 456.6) scale(0.93 1)" text-anchor="end" font-size="9.6" fill="#2a2a2a">100</text><text transform="translate(366.8 647.4) scale(0.93 1)" text-anchor="middle" font-size="9.6" fill="#2a2a2a">100</text><text transform="translate(407.8 647.4) scale(0.93 1)" text-anchor="middle" font-size="9.6" fill="#2a2a2a">200</text><text transform="translate(448.8 647.4) scale(0.93 1)" text-anchor="middle" font-size="9.6" fill="#2a2a2a">300</text><text transform="translate(489.8 647.4) scale(0.93 1)" text-anchor="middle" font-size="9.6" fill="#2a2a2a">400</text><text transform="translate(530.8 647.4) scale(0.93 1)" text-anchor="middle" font-size="9.6" fill="#2a2a2a">500</text><text transform="translate(571.8 647.4) scale(0.93 1)" text-anchor="middle" font-size="9.6" fill="#2a2a2a">600</text><text transform="translate(575.4 639.1) scale(0.93 1)" font-size="9.6" fill="#2236d6">0.0</text><text transform="translate(575.4 593.48) scale(0.93 1)" font-size="9.6" fill="#2236d6">0.1</text><text transform="translate(575.4 547.85) scale(0.93 1)" font-size="9.6" fill="#2236d6">0.2</text><text transform="translate(575.4 502.23) scale(0.93 1)" font-size="9.6" fill="#2236d6">0.3</text><text transform="translate(575.4 456.6) scale(0.93 1)" font-size="9.6" fill="#2236d6">0.4</text><text transform="translate(421.9 550.9) scale(0.93 1)" text-anchor="middle" font-size="9.6" fill="#2a2a2a">229.69</text><text transform="translate(463.5 579.3) scale(0.93 1)" text-anchor="middle" font-size="9.6" fill="#2a2a2a">353.78</text><text transform="translate(496.2 544.2) scale(0.93 1)" text-anchor="middle" font-size="9.6" fill="#2a2a2a">412.81</text>
<text transform="translate(307 473.3) scale(0.97 1)" font-size="21" fill="#111" stroke="#111" stroke-width="0.35">f)</text>
<text transform="translate(319.1 540.3) rotate(-90) scale(0.95 1)" text-anchor="middle" font-size="11.8" fill="#161616" stroke="#161616" stroke-width="0.15">Mass (%)</text>
<text transform="translate(598.8 544.3) rotate(-90) scale(0.96 1)" text-anchor="middle" font-size="11.8" fill="#2236d6" stroke="#2236d6" stroke-width="0.15">1st Derivative (%/°C)</text>
<text transform="translate(459.3 663) scale(0.95 1)" text-anchor="middle" font-size="11.8" fill="#161616" stroke="#161616" stroke-width="0.15">Temperature (°C)</text>
</svg>
</body></html>
